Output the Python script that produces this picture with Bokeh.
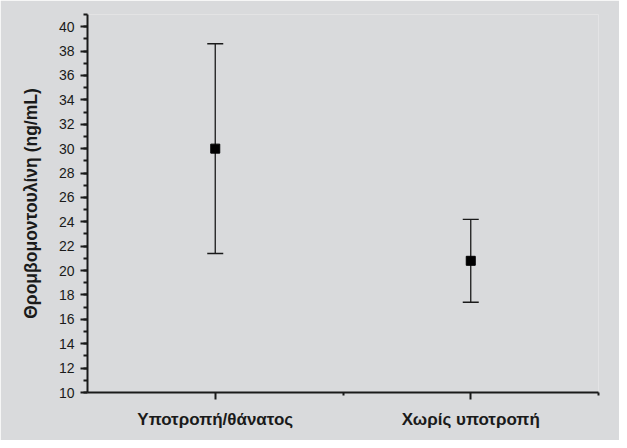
from bokeh.plotting import figure
from bokeh.models import ColumnDataSource, Whisker, TeeHead, FixedTicker, Range1d
from bokeh.embed import file_html
from bokeh.resources import INLINE

categories = ["Υποτροπή/θάνατος", "Χωρίς υποτροπή"]
means = [30.0, 20.8]
lower = [21.4, 17.4]
upper = [38.6, 24.2]
x_positions = [1, 3]
y_major_ticks = list(range(10, 41, 2))
y_minor_ticks = list(range(10, 42))
y_label = "Θρομβομοντουλίνη (ng/mL)"

BG = "#d9dadc"
INK = "#1a1a1a"

src = ColumnDataSource(dict(x=x_positions, mean=means, lower=lower, upper=upper))

p = figure(width=619, height=440, output_backend="svg", toolbar_location=None,
           x_range=Range1d(0, 4), y_range=Range1d(10, 41),
           min_border_left=87, min_border_right=21, min_border_top=14, min_border_bottom=48)
p.background_fill_color = BG
p.border_fill_color = BG
p.outline_line_color = None
p.grid.visible = False

w = Whisker(source=src, base="x", upper="upper", lower="lower", dimension="height",
            line_color=INK, line_width=1.3,
            upper_head=TeeHead(size=16, line_color=INK, line_width=1.3),
            lower_head=TeeHead(size=16, line_color=INK, line_width=1.3))
p.add_layout(w)
p.scatter("x", "mean", source=src, marker="square", size=9, color="black")

xa = p.xaxis[0]
xa.ticker = FixedTicker(ticks=x_positions, minor_ticks=[2, 4])
xa.major_label_overrides = {xp: c for xp, c in zip(x_positions, categories)}
xa.major_label_text_font = "Liberation Sans"
xa.major_label_text_font_style = "bold"
xa.major_label_text_font_size = "17px"
xa.major_label_text_color = INK
xa.major_label_standoff = 10
xa.major_tick_out = 7
xa.major_tick_in = 0
xa.minor_tick_out = 3
xa.minor_tick_in = 0
xa.axis_line_width = 2
xa.axis_line_color = INK
xa.major_tick_line_width = 2
xa.minor_tick_line_width = 2
xa.major_tick_line_color = INK
xa.minor_tick_line_color = INK

ya = p.yaxis[0]
ya.ticker = FixedTicker(ticks=y_major_ticks, minor_ticks=y_minor_ticks)
ya.major_label_text_font = "Liberation Sans"
ya.major_label_text_font_size = "14px"
ya.major_label_text_color = INK
ya.major_label_standoff = 6
ya.major_tick_out = 7
ya.major_tick_in = 0
ya.minor_tick_out = 4
ya.minor_tick_in = 0
ya.axis_line_width = 2
ya.axis_line_color = INK
ya.major_tick_line_width = 2
ya.minor_tick_line_width = 2
ya.major_tick_line_color = INK
ya.minor_tick_line_color = INK
ya.axis_label = y_label
ya.axis_label_text_font = "Liberation Sans"
ya.axis_label_text_font_style = "bold"
ya.axis_label_text_font_size = "17.5px"
ya.axis_label_text_color = INK
ya.axis_label_standoff = 15

open("out.html", "w").write(file_html(p, INLINE))
